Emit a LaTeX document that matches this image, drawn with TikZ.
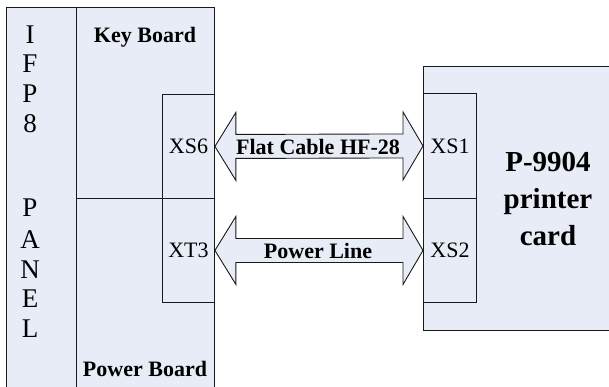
\documentclass[tikz,border=0pt]{standalone}
\usepackage{fontspec}
\setmainfont{Liberation Serif}
\usetikzlibrary{calc}
\definecolor{fillc}{RGB}{231,236,246}
\definecolor{linec}{RGB}{25,25,25}
\begin{document}
\begin{tikzpicture}[x=1pt,y=-1pt,
  box/.style={draw=linec, fill=fillc, line width=0.9pt, inner sep=0pt},
  fatarrow/.style={draw=linec, fill=fillc, line width=0.9pt, line join=miter},
  lbl/.style={font=\fontsize{22}{26}\selectfont\bfseries, inner sep=0pt},
  conn/.style={font=\fontsize{22}{26}\selectfont, inner sep=0pt},
  letter/.style={font=\fontsize{27}{30}\selectfont, inner sep=0pt}]
\useasboundingbox (0,0) rectangle (609,387);
\clip (0,0) rectangle (609,387);
% left unit
\node[box, minimum width=70.5pt, minimum height=383pt, anchor=north west] (ifp) at (5.5,7) {};
\node[box, minimum width=138pt, minimum height=191pt, anchor=north west] (keyb) at (76,7) {};
\node[box, minimum width=138pt, minimum height=192pt, anchor=north west] (powb) at (76,198) {};
\node[box, minimum width=52pt, minimum height=104pt, anchor=north west, conn] (xs6) at (162,94) {XS6};
\node[box, minimum width=52pt, minimum height=104pt, anchor=north west, conn] (xt3) at (162,198) {XT3};
\node[lbl] (kbt) at (145,37) {Key Board};
\node[lbl] (pbt) at (145,369) {Power Board};
% letters
\foreach \c/\yy [count=\i] in {I/35,F/64,P/94,8/124,P/208,A/240,N/270,E/299,L/329}
  \node[letter] (let\i) at (30,\yy) {\c};
% right unit
\node[box, minimum width=200pt, minimum height=264pt, anchor=north west] (card) at (423,66) {};
\node[box, minimum width=53pt, minimum height=105pt, anchor=north west, conn] (xs1) at (423,93) {XS1};
\node[box, minimum width=53pt, minimum height=104pt, anchor=north west, conn] (xs2) at (423,198) {XS2};
\node[font=\fontsize{29}{37}\selectfont\bfseries, align=center, inner sep=0pt] (cardt) at (548,199) {P-9904\\printer\\card};
% fat double arrows
\draw[fatarrow] (xs6.east) -- ($(xs6.east)+(21,-34)$) -- ($(xs6.east)+(21,-12)$)
  -- ($(xs1.west)+(-20,-12)$) -- ($(xs1.west)+(-20,-34)$) -- (xs1.west)
  -- ($(xs1.west)+(-20,34)$) -- ($(xs1.west)+(-20,12)$)
  -- ($(xs6.east)+(21,12)$) -- ($(xs6.east)+(21,34)$) -- cycle;
\draw[fatarrow] (xt3.east) -- ($(xt3.east)+(21,-34)$) -- ($(xt3.east)+(21,-12)$)
  -- ($(xs2.west)+(-20,-12)$) -- ($(xs2.west)+(-20,-34)$) -- (xs2.west)
  -- ($(xs2.west)+(-20,34)$) -- ($(xs2.west)+(-20,12)$)
  -- ($(xt3.east)+(21,12)$) -- ($(xt3.east)+(21,34)$) -- cycle;
\node[lbl] (flat) at (318,147) {Flat Cable HF-28};
\node[lbl] (pwl) at (318,251) {Power Line};
\end{tikzpicture}
\end{document}
